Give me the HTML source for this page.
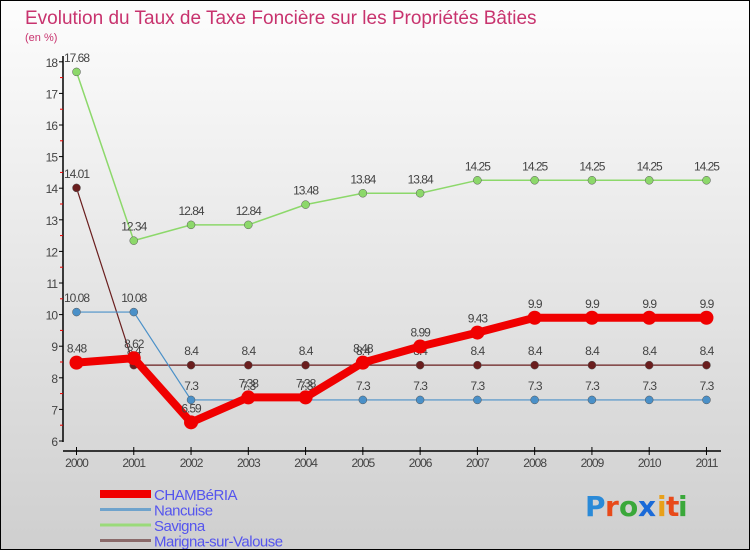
<!DOCTYPE html>
<html><head><meta charset="utf-8"><style>
body{margin:0;}
#wrap{width:748px;height:548px;border:1px solid #000;background:linear-gradient(#fdfdfd,#cfcfcf);position:relative;font-family:"Liberation Sans",sans-serif;overflow:hidden}
svg{position:absolute;left:0;top:0}
</style></head><body>
<div id="wrap">
<svg id="c" width="750" height="550">
<text x="24" y="23" font-size="19" fill="#c8336e">Evolution du Taux de Taxe Foncière sur les Propriétés Bâties</text>
<text x="24" y="40" font-size="11" fill="#c8336e">(en %)</text>
<g id="axes"></g><g id="series"></g><g id="legend"></g>
<g font-size="28" font-family="DejaVu Sans, sans-serif" font-weight="bold">
<text x="584" y="515" fill="#2a8ad8">P</text><text x="604" y="515" fill="#e84a1a">r</text><text x="618" y="515" fill="#3aa83a">o</text><text x="637" y="515" fill="#1a6ad8">x</text><text x="656" y="515" fill="#e8a01a">i</text><text x="665" y="515" fill="#e84a1a">t</text><text x="677" y="515" fill="#3aa83a">i</text>
</g>
</svg></div>
<script>
const years=["2000","2001","2002","2003","2004","2005","2006","2007","2008","2009","2010","2011"];
const chamb=[8.48,8.62,6.59,7.38,7.38,8.48,8.99,9.43,9.9,9.9,9.9,9.9];
const nancuise=[10.08,10.08,7.3,7.3,7.3,7.3,7.3,7.3,7.3,7.3,7.3,7.3];
const savigna=[17.68,12.34,12.84,12.84,13.48,13.84,13.84,14.25,14.25,14.25,14.25,14.25];
const marigna=[14.01,8.4,8.4,8.4,8.4,8.4,8.4,8.4,8.4,8.4,8.4,8.4];
const yTicks=[6,7,8,9,10,11,12,13,14,15,16,17,18];
const NS="http://www.w3.org/2000/svg";
const x=i=>75.5+i*57.27;
const y=v=>440-(v-6)*31.6;
function mk(t,a,p){const e=document.createElementNS(NS,t);for(const k in a)e.setAttribute(k,a[k]);p.appendChild(e);return e;}
const ax=document.getElementById('axes');
let e=mk('line',{x1:62,y1:55,x2:62,y2:441,stroke:'#000','stroke-width':1.5},ax);

e=mk('line',{x1:62,y1:450,x2:720,y2:450,stroke:'#000','stroke-width':1.5},ax);

yTicks.forEach(v=>{
 mk('line',{x1:58,y1:y(v),x2:62,y2:y(v),stroke:'#000'},ax);
 if(v<18) mk('line',{x1:59,y1:y(v+0.5),x2:62,y2:y(v+0.5),stroke:'#e00'},ax);
 const t=mk('text',{x:56,y:y(v)+5,'text-anchor':'end','font-size':12,fill:'#444','letter-spacing':'-1'},ax);t.textContent=v;
 
});
years.forEach((yr,i)=>{
 mk('line',{x1:x(i),y1:446,x2:x(i),y2:454,stroke:'#000'},ax);
 const t=mk('text',{x:x(i),y:466,'text-anchor':'middle','font-size':12,fill:'#444','letter-spacing':'-1'},ax);t.textContent=yr;
 
});
const sg=document.getElementById('series');
const defs=[
 {d:marigna,c:'#6a1e1e',w:1.2,r:4,n:'marigna'},
 {d:nancuise,c:'#4a90c8',w:1.2,r:4,n:'nancuise'},
 {d:savigna,c:'#8cd86a',w:1.5,r:4,n:'savigna'},
 {d:chamb,c:'#f00000',w:8,r:7,n:'chamberia'}];
defs.forEach(s=>{
 const g=mk('g',{},sg);
 
 const l=mk('polyline',{points:s.d.map((v,i)=>x(i)+','+y(v)).join(' '),fill:'none',stroke:s.c,'stroke-width':s.w,'stroke-linejoin':'round'},g);
 
 s.d.forEach((v,i)=>{
  const c=mk('circle',{cx:x(i),cy:y(v),r:s.r,fill:s.c,stroke:s.r>5?'none':'#555','stroke-width':0.5},g);
  
  const t=mk('text',{x:x(i),y:y(v)-10,'text-anchor':'middle','font-size':12,fill:'#444','letter-spacing':'-1'},g);t.textContent=v;
  
 });
});
const lg=document.getElementById('legend');
[['CHAMBéRIA','#f00000',8],['Nancuise','#6fa3cc',3],['Savigna','#9ada7a',3],['Marigna-sur-Valouse','#8a6a6a',3]].forEach((it,k)=>{
 const yy=493+k*15.5;
 const g=mk('g',{},lg);
 mk('line',{x1:99,y1:yy,x2:150,y2:yy,stroke:it[1],'stroke-width':it[2]},g);
 const t=mk('text',{x:153,y:yy+6,'font-size':15,fill:'#5555ee','letter-spacing':'-0.5'},g);t.textContent=it[0];
});
</script>
</body></html>
